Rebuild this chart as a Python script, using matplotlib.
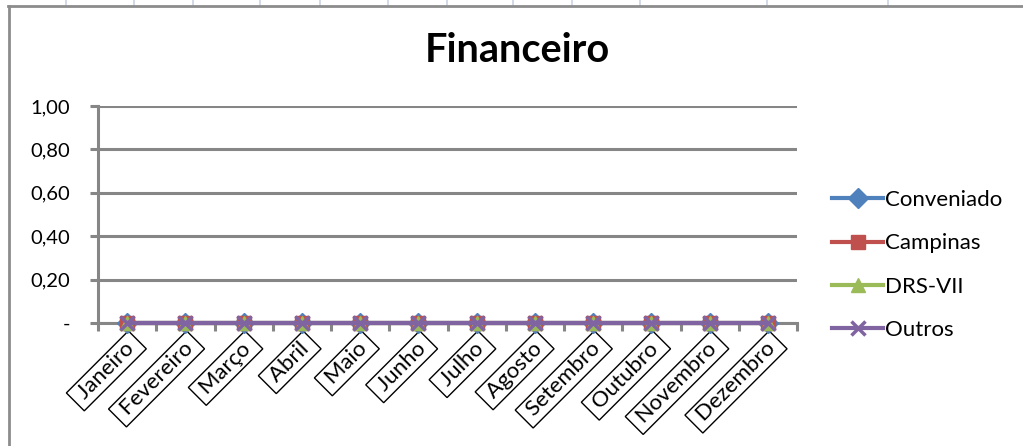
import numpy as np
import matplotlib.pyplot as plt
from matplotlib.lines import Line2D

# data
meses = ['Janeiro', 'Fevereiro', 'Março', 'Abril', 'Maio', 'Junho', 'Julho',
         'Agosto', 'Setembro', 'Outubro', 'Novembro', 'Dezembro']
conveniado = [0, 0, 0, 0, 0, 0, 0, 0, 0, 0, 0, 0]
campinas = [0, 0, 0, 0, 0, 0, 0, 0, 0, 0, 0, 0]
drs_vii = [0, 0, 0, 0, 0, 0, 0, 0, 0, 0, 0, 0]
outros = [0, 0, 0, 0, 0, 0, 0, 0, 0, 0, 0, 0]
y_ticks = [0, 0.2, 0.4, 0.6, 0.8, 1.0]
y_labels = ['-', '0,20', '0,40', '0,60', '0,80', '1,00']

plt.rcParams['font.family'] = ['Lato', 'DejaVu Sans']

W, H = 1023, 446
fig = plt.figure(figsize=(W / 100, H / 100), dpi=100)

def fx(px):
    return px / W

def fy(py):
    return 1 - py / H

# spreadsheet background behind the chart object
for xc in [66, 134, 193, 260, 320, 388, 447, 513, 572, 640, 767, 888]:
    fig.add_artist(Line2D([fx(xc), fx(xc)], [fy(0), fy(5)], color='#c9d3e4', lw=1.2))
fig.add_artist(Line2D([fx(8), fx(W)], [fy(6), fy(6)], color='#8c8c8c', lw=2))
fig.add_artist(Line2D([fx(8.5), fx(8.5)], [fy(6), fy(H)], color='#8c8c8c', lw=2))

ax = fig.add_axes([fx(98), fy(323), fx(797) - fx(98), fy(106) - fy(323)])

x = np.arange(len(meses))
grid_col = '#868686'

series = [
    ('Conveniado', conveniado, '#4f81bd', 'D'),
    ('Campinas', campinas, '#c0504d', 's'),
    ('DRS-VII', drs_vii, '#9bbb59', '^'),
    ('Outros', outros, '#8064a2', 'x'),
]
for name, vals, col, mk in series:
    if mk == 'x':
        ax.plot(x, vals, color=col, lw=3, marker=mk, markersize=10,
                markeredgewidth=2.5, label=name, zorder=5, clip_on=False)
    else:
        ax.plot(x, vals, color=col, lw=3, marker=mk, markersize=10,
                markeredgecolor=col, label=name, zorder=5, clip_on=False)

ax.set_xlim(-0.5, len(meses) - 0.5)
ax.set_ylim(0, 1.0)

ax.set_yticks(y_ticks)
ax.set_yticklabels(y_labels, fontsize=14.5)
for yv in y_ticks[1:]:
    ax.axhline(yv, color=grid_col, lw=2.2, zorder=1)
ax.axhline(0, color=grid_col, lw=2.2, zorder=1)

for s in ['top', 'right', 'bottom']:
    ax.spines[s].set_visible(False)
ax.spines['left'].set_color(grid_col)
ax.spines['left'].set_linewidth(2.2)
ax.tick_params(axis='y', length=6, width=2.2, color=grid_col, pad=14)

# category boundary ticks under the axis
ax.set_xticks(np.arange(-0.5, len(meses), 1.0))
ax.set_xticklabels([])
ax.tick_params(axis='x', length=6, width=2.2, color=grid_col, direction='out')
ax.spines['bottom'].set_visible(True)
ax.spines['bottom'].set_color(grid_col)
ax.spines['bottom'].set_linewidth(2.2)

for i, m in enumerate(meses):
    ax.annotate(' ' + m + ' ', xy=(i, 0), xycoords='data', xytext=(6, -13.5),
                textcoords='offset points', rotation=45, rotation_mode='anchor',
                ha='right', va='center', fontsize=16,
                bbox=dict(boxstyle='square,pad=0.12', fc='white', ec='black', lw=1),
                annotation_clip=False)

fig.text(fx(517), fy(50), 'Financeiro', ha='center', va='center',
         fontsize=28.5, fontweight='bold')

fig.legend(loc='center left', bbox_to_anchor=(fx(832), fy(265)), frameon=False,
           fontsize=16, handlelength=2.3, handletextpad=0.1, labelspacing=1.05,
           borderpad=0, borderaxespad=0)

fig.savefig('out.png', dpi=100)
